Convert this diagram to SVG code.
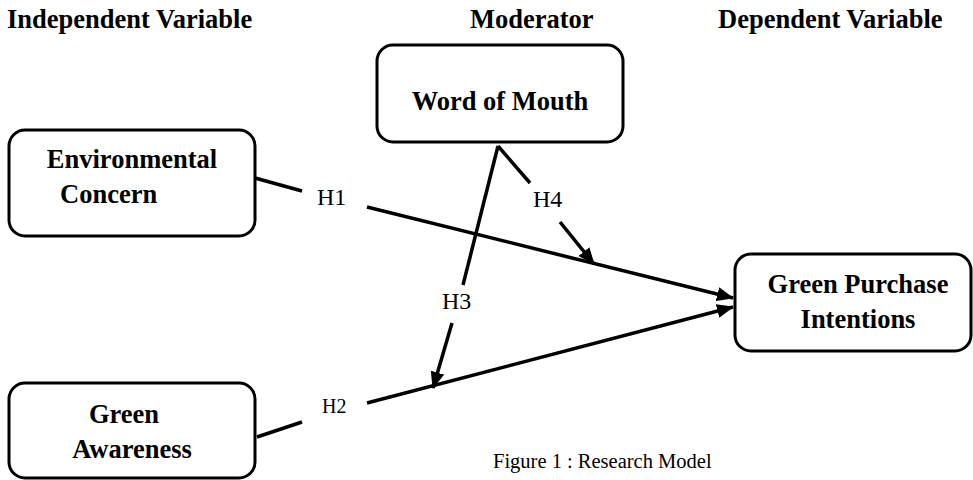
<svg xmlns="http://www.w3.org/2000/svg" width="973" height="480" viewBox="0 0 973 480">
<style>
.box{fill:#fff;stroke:#000;stroke-width:3}
.bold{font-family:"Liberation Serif","Times New Roman",serif;font-weight:bold;font-size:26.5px;fill:#000}
.head{font-family:"Liberation Serif","Times New Roman",serif;font-weight:bold;font-size:26.5px;fill:#000}
.lbl{font-family:"Liberation Serif","Times New Roman",serif;font-size:24px;fill:#000}
.lbl2{font-family:"Liberation Serif","Times New Roman",serif;font-size:20px;fill:#000}
.cap{font-family:"Liberation Serif","Times New Roman",serif;font-size:20.5px;fill:#000}
.ln{stroke:#000;stroke-width:3.5;fill:none}
</style>
<defs>
<marker id="ah" markerUnits="userSpaceOnUse" markerWidth="18" markerHeight="14" refX="16" refY="7" orient="auto">
<path d="M0,0 L17,7 L0,14 Z" fill="#000"/>
</marker>
</defs>
<rect width="973" height="480" fill="#fff"/>
<g id="headers">
<text class="head" x="7" y="28">Independent Variable</text>
<text class="head" x="470" y="28">Moderator</text>
<text class="head" x="718" y="28">Dependent Variable</text>
</g>
<g id="connectors">
<line class="ln" x1="255" y1="178" x2="302" y2="191"/>
<line class="ln" x1="367" y1="207" x2="733" y2="298" marker-end="url(#ah)"/>
<line class="ln" x1="257" y1="437" x2="302" y2="422"/>
<line class="ln" x1="367" y1="403" x2="733" y2="307" marker-end="url(#ah)"/>
<line class="ln" x1="498" y1="146" x2="463" y2="285"/>
<line class="ln" x1="452" y1="323" x2="433" y2="388" marker-end="url(#ah)"/>
<line class="ln" x1="498" y1="146" x2="530" y2="183"/>
<line class="ln" x1="560" y1="222" x2="594" y2="264" marker-end="url(#ah)"/>
<text class="lbl" x="317" y="205">H1</text>
<text class="lbl2" x="322" y="413">H2</text>
<text class="lbl" x="442" y="309">H3</text>
<text class="lbl" x="533" y="207">H4</text>
</g>
<g id="env">
<rect class="box" x="9" y="130" width="246" height="106" rx="16"/>
<text class="bold" x="132" y="168" text-anchor="middle">Environmental</text>
<text class="bold" x="60" y="203">Concern</text>
</g>
<g id="wom">
<rect class="box" x="377" y="45" width="246" height="97" rx="16"/>
<text class="bold" x="500" y="110" text-anchor="middle">Word of Mouth</text>
</g>
<g id="gpi">
<rect class="box" x="735" y="254" width="236" height="97" rx="16"/>
<text class="bold" x="858" y="293" text-anchor="middle">Green Purchase</text>
<text class="bold" x="858" y="328" text-anchor="middle">Intentions</text>
</g>
<g id="ga">
<rect class="box" x="9" y="383" width="246" height="95" rx="16"/>
<text class="bold" x="124" y="423" text-anchor="middle">Green</text>
<text class="bold" x="132" y="458" text-anchor="middle">Awareness</text>
</g>
<text class="cap" x="493" y="468">Figure 1 : Research Model</text>
</svg>
